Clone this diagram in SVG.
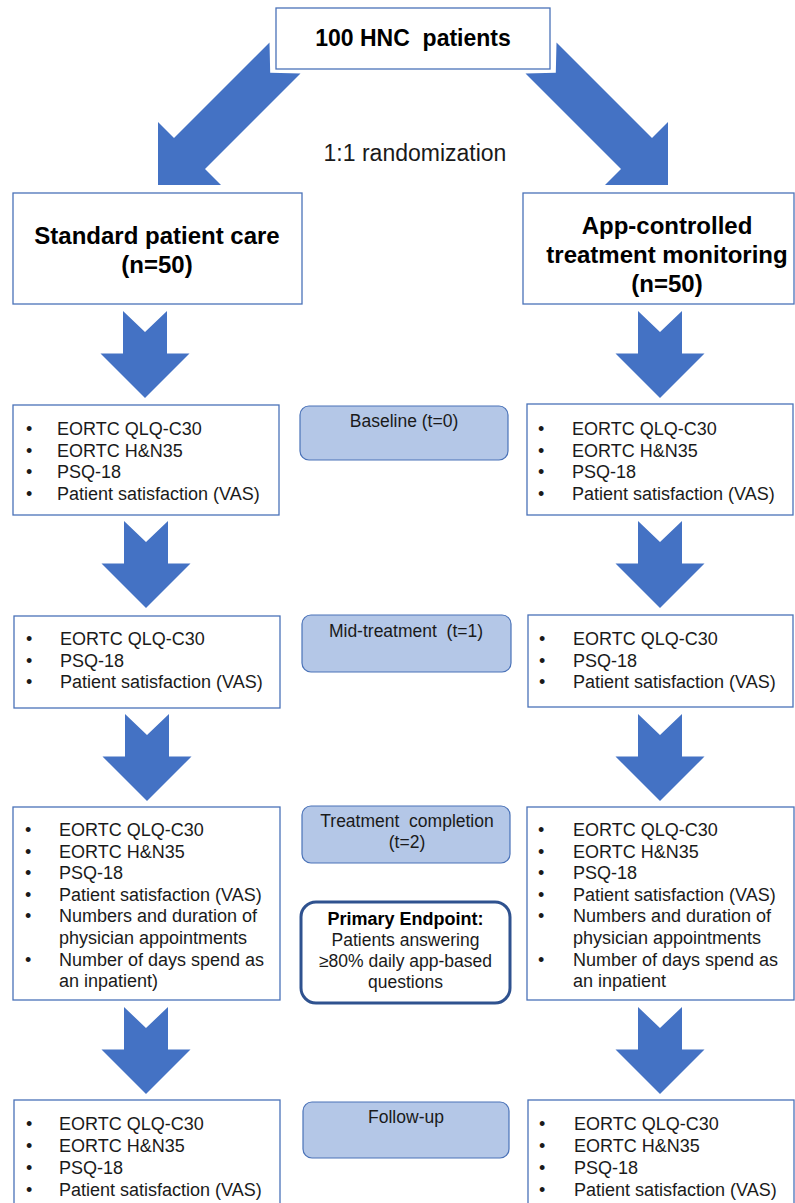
<svg xmlns="http://www.w3.org/2000/svg" width="795" height="1203" viewBox="0 0 795 1203">
<style>
text{font-family:"Liberation Sans",Arial,sans-serif;fill:#1a1a1a;white-space:pre}
.box{fill:#fff;stroke:#4a72b8;stroke-width:1.3}
.tp{fill:#b4c7e7;stroke:#4a72b8;stroke-width:1.2}
.pe{fill:#fff;stroke:#2f528f;stroke-width:3}
.arr{fill:#4472c4}
.h{font-size:24px;font-weight:bold;text-anchor:middle;fill:#000}
.t{font-size:23px;font-weight:bold;text-anchor:middle;fill:#000}
.b{font-size:18px}
.c{font-size:17.5px;text-anchor:middle}
.cb{font-size:18px;font-weight:bold;text-anchor:middle;fill:#000}
.r{font-size:23px;text-anchor:middle}
</style>
<defs>
<path id="dn" d="M-22,0 L0,21 L22,0 L22,42.5 L44.5,42.5 L0,87 L-44.5,42.5 L-22,42.5 Z"/>
<path id="diag" d="M269.5,42.5 L270.2,72.8 L300.5,73.5 L205,169 L221,185 L158,185 L158,122 L174,138 Z"/>
</defs>

<g id="connectors" class="arr">
<use href="#diag"/>
<use href="#diag" transform="translate(826,0) scale(-1,1)"/>
<use href="#dn" x="145" y="311"/>
<use href="#dn" x="660" y="311"/>
<use href="#dn" x="146" y="521"/>
<use href="#dn" x="660" y="521"/>
<use href="#dn" x="147" y="714"/>
<use href="#dn" x="660" y="714"/>
<use href="#dn" x="146" y="1007"/>
<use href="#dn" x="660" y="1007"/>
</g>

<g id="n-total">
<rect class="box" x="276" y="8" width="274" height="61"/>
<text class="t" x="413" y="46">100 HNC  patients</text>
</g>

<g id="n-randomization">
<text class="r" x="415" y="161">1:1 randomization</text>
</g>

<g id="n-standard">
<rect class="box" x="13" y="193" width="289" height="111"/>
<text class="h" x="157" y="244">Standard patient care</text>
<text class="h" x="157" y="273">(n=50)</text>
</g>

<g id="n-app">
<rect class="box" x="523" y="193" width="271" height="111"/>
<text class="h" x="667" y="234">App-controlled</text>
<text class="h" x="667" y="263">treatment monitoring</text>
<text class="h" x="667" y="292">(n=50)</text>
</g>

<g id="n-baseline-left">
<rect class="box" x="13" y="405" width="266" height="110"/>
<text class="b"><tspan x="26" y="435">•</tspan><tspan x="57" y="435">EORTC QLQ-C30</tspan><tspan x="26" y="456.5">•</tspan><tspan x="57" y="456.5">EORTC H&amp;N35</tspan><tspan x="26" y="478">•</tspan><tspan x="57" y="478">PSQ-18</tspan><tspan x="26" y="499.5">•</tspan><tspan x="57" y="499.5">Patient satisfaction (VAS)</tspan></text>
</g>

<g id="n-baseline">
<rect class="tp" x="300" y="406" width="208" height="54" rx="9"/>
<text class="c" x="404" y="427">Baseline (t=0)</text>
</g>

<g id="n-baseline-right">
<rect class="box" x="527" y="404" width="266" height="111"/>
<text class="b"><tspan x="538" y="435">•</tspan><tspan x="572" y="435">EORTC QLQ-C30</tspan><tspan x="538" y="456.5">•</tspan><tspan x="572" y="456.5">EORTC H&amp;N35</tspan><tspan x="538" y="478">•</tspan><tspan x="572" y="478">PSQ-18</tspan><tspan x="538" y="499.5">•</tspan><tspan x="572" y="499.5">Patient satisfaction (VAS)</tspan></text>
</g>

<g id="n-mid-left">
<rect class="box" x="14" y="616" width="266" height="92"/>
<text class="b"><tspan x="26" y="645">•</tspan><tspan x="60" y="645">EORTC QLQ-C30</tspan><tspan x="26" y="666.5">•</tspan><tspan x="60" y="666.5">PSQ-18</tspan><tspan x="26" y="688">•</tspan><tspan x="60" y="688">Patient satisfaction (VAS)</tspan></text>
</g>

<g id="n-mid">
<rect class="tp" x="302" y="615" width="209" height="57" rx="9"/>
<text class="c" x="406" y="637">Mid-treatment  (t=1)</text>
</g>

<g id="n-mid-right">
<rect class="box" x="528" y="615" width="265" height="92"/>
<text class="b"><tspan x="539" y="645">•</tspan><tspan x="573" y="645">EORTC QLQ-C30</tspan><tspan x="539" y="666.5">•</tspan><tspan x="573" y="666.5">PSQ-18</tspan><tspan x="539" y="688">•</tspan><tspan x="573" y="688">Patient satisfaction (VAS)</tspan></text>
</g>

<g id="n-completion-left">
<rect class="box" x="13" y="807" width="267" height="193"/>
<text class="b"><tspan x="25" y="836">•</tspan><tspan x="59" y="836">EORTC QLQ-C30</tspan><tspan x="25" y="857.6">•</tspan><tspan x="59" y="857.6">EORTC H&amp;N35</tspan><tspan x="25" y="879.2">•</tspan><tspan x="59" y="879.2">PSQ-18</tspan><tspan x="25" y="900.8">•</tspan><tspan x="59" y="900.8">Patient satisfaction (VAS)</tspan><tspan x="25" y="922.4">•</tspan><tspan x="59" y="922.4">Numbers and duration of</tspan><tspan x="59" y="944">physician appointments</tspan><tspan x="25" y="965.6">•</tspan><tspan x="59" y="965.6">Number of days spend as</tspan><tspan x="59" y="987.2">an inpatient)</tspan></text>
</g>

<g id="n-completion">
<rect class="tp" x="302" y="806" width="208" height="57" rx="9"/>
<text class="c" x="407" y="827">Treatment  completion</text>
<text class="c" x="407" y="848">(t=2)</text>
</g>

<g id="n-primary">
<rect class="pe" x="301" y="902" width="209" height="101" rx="15"/>
<text class="cb" x="405.5" y="925">Primary Endpoint:</text>
<text class="c" x="405.5" y="946">Patients answering</text>
<text class="c" x="405.5" y="967">≥80% daily app-based</text>
<text class="c" x="405.5" y="988">questions</text>
</g>

<g id="n-completion-right">
<rect class="box" x="527" y="807" width="267" height="193"/>
<text class="b"><tspan x="538" y="836">•</tspan><tspan x="573" y="836">EORTC QLQ-C30</tspan><tspan x="538" y="857.6">•</tspan><tspan x="573" y="857.6">EORTC H&amp;N35</tspan><tspan x="538" y="879.2">•</tspan><tspan x="573" y="879.2">PSQ-18</tspan><tspan x="538" y="900.8">•</tspan><tspan x="573" y="900.8">Patient satisfaction (VAS)</tspan><tspan x="538" y="922.4">•</tspan><tspan x="573" y="922.4">Numbers and duration of</tspan><tspan x="573" y="944">physician appointments</tspan><tspan x="538" y="965.6">•</tspan><tspan x="573" y="965.6">Number of days spend as</tspan><tspan x="573" y="987.2">an inpatient</tspan></text>
</g>

<g id="n-followup-left">
<rect class="box" x="14" y="1100" width="266" height="115"/>
<text class="b"><tspan x="26" y="1130">•</tspan><tspan x="59" y="1130">EORTC QLQ-C30</tspan><tspan x="26" y="1152">•</tspan><tspan x="59" y="1152">EORTC H&amp;N35</tspan><tspan x="26" y="1174">•</tspan><tspan x="59" y="1174">PSQ-18</tspan><tspan x="26" y="1196">•</tspan><tspan x="59" y="1196">Patient satisfaction (VAS)</tspan></text>
</g>

<g id="n-followup">
<rect class="tp" x="303" y="1102" width="206" height="56" rx="9"/>
<text class="c" x="406" y="1123">Follow-up</text>
</g>

<g id="n-followup-right">
<rect class="box" x="528" y="1100" width="266" height="115"/>
<text class="b"><tspan x="539" y="1130">•</tspan><tspan x="574" y="1130">EORTC QLQ-C30</tspan><tspan x="539" y="1152">•</tspan><tspan x="574" y="1152">EORTC H&amp;N35</tspan><tspan x="539" y="1174">•</tspan><tspan x="574" y="1174">PSQ-18</tspan><tspan x="539" y="1196">•</tspan><tspan x="574" y="1196">Patient satisfaction (VAS)</tspan></text>
</g>
</svg>
